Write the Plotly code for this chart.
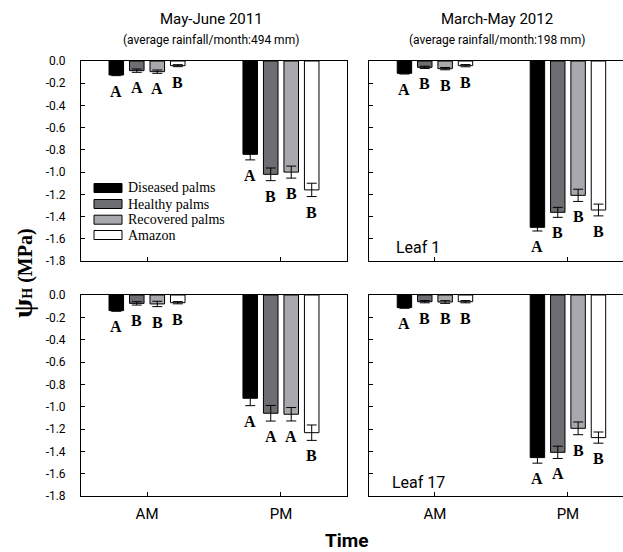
import plotly.graph_objects as go

W, H = 623, 552

times = ["AM", "PM"]
groups = ["Diseased palms", "Healthy palms", "Recovered palms", "Amazon"]
colors = ["#000000", "#6d6e71", "#a7a9ac", "#ffffff"]

ytick_vals = [0.0, -0.2, -0.4, -0.6, -0.8, -1.0, -1.2, -1.4, -1.6, -1.8]
ytick_text = ["0.0", "-0.2", "-0.4", "-0.6", "-0.8", "-1.0", "-1.2", "-1.4", "-1.6", "-1.8"]

col_titles = ["May-June 2011", "March-May 2012"]
col_subtitles = ["(average rainfall/month:494 mm)", "(average rainfall/month:198 mm)"]
row_labels = ["Leaf 1", "Leaf 17"]

# rows: Diseased, Healthy, Recovered, Amazon ; columns: AM, PM
psi_2011_leaf1 = [[-0.126, -0.84], [-0.087, -1.02], [-0.096, -1.00], [-0.042, -1.16]]
err_2011_leaf1 = [[0.006, 0.05], [0.015, 0.057], [0.015, 0.054], [0.009, 0.06]]
let_2011_leaf1 = [["A", "A"], ["A", "B"], ["A", "B"], ["B", "B"]]

psi_2012_leaf1 = [[-0.111, -1.497], [-0.057, -1.362], [-0.069, -1.209], [-0.042, -1.341]]
err_2012_leaf1 = [[0.006, 0.033], [0.01, 0.045], [0.01, 0.055], [0.01, 0.053]]
let_2012_leaf1 = [["A", "A"], ["B", "B"], ["B", "B"], ["B", "B"]]

psi_2011_leaf17 = [[-0.140, -0.925], [-0.075, -1.059], [-0.080, -1.068], [-0.069, -1.233]]
err_2011_leaf17 = [[0.006, 0.066], [0.015, 0.07], [0.024, 0.06], [0.01, 0.069]]
let_2011_leaf17 = [["A", "A"], ["B", "A"], ["B", "A"], ["B", "B"]]

psi_2012_leaf17 = [[-0.113, -1.456], [-0.060, -1.409], [-0.063, -1.194], [-0.060, -1.277]]
err_2012_leaf17 = [[0.006, 0.05], [0.01, 0.055], [0.012, 0.057], [0.01, 0.05]]
let_2012_leaf17 = [["A", "A"], ["B", "A"], ["B", "B"], ["B", "B"]]

SANS = "Liberation Sans Narrow, Roboto, Liberation Sans, Arial, sans-serif"
SERIF = "Liberation Serif, Times New Roman, serif"


def px_x(p):
    return p / W


def px_y(p):
    return 1 - p / H


# panel geometry (pixels)
left_x = (81, 347)
right_x = (369, 623)
top_y = (61, 261)
bot_y = (295, 496)
left_range = [-0.493, 1.493]
right_range = [-0.496, 1.414]
BARGAP = 0.388
GROUPGAP = 0.29

panels = [
    (psi_2011_leaf1, err_2011_leaf1, let_2011_leaf1, "", left_x, left_range, top_y, 0, 0),
    (psi_2012_leaf1, err_2012_leaf1, let_2012_leaf1, "2", right_x, right_range, top_y, 1, 0),
    (psi_2011_leaf17, err_2011_leaf17, let_2011_leaf17, "3", left_x, left_range, bot_y, 0, 1),
    (psi_2012_leaf17, err_2012_leaf17, let_2012_leaf17, "4", right_x, right_range, bot_y, 1, 1),
]

fig = go.Figure()
annotations = []
shapes = []

for vals, errs, lets, sfx, xpix, xr, ypix, col, row in panels:
    for gi, g in enumerate(groups):
        fig.add_trace(go.Bar(
            x=times, y=vals[gi], name=g,
            marker=dict(color=colors[gi], line=dict(color="black", width=1)),
            error_y=dict(type="data", array=errs[gi], color="black", thickness=1, width=5),
            xaxis="x" + sfx, yaxis="y" + sfx, showlegend=False, hoverinfo="skip",
        ))
    ppu = (xpix[1] - xpix[0]) / (xr[1] - xr[0])
    slot = ppu * (1 - BARGAP) / len(groups)
    for gi in range(len(groups)):
        for ti, t in enumerate(times):
            annotations.append(dict(
                x=t, y=vals[gi][ti] - errs[gi][ti], xref="x" + sfx, yref="y" + sfx,
                text="<b>%s</b>" % lets[gi][ti], showarrow=False,
                xanchor="center", yanchor="top",
                xshift=(gi - 1.5) * slot, yshift=-5,
                font=dict(family=SERIF, size=16, color="black"),
            ))
    ax = dict(
        domain=[px_x(xpix[0]), px_x(xpix[1])], range=xr, type="category",
        anchor="y" + sfx, showline=True, linecolor="black", linewidth=1, mirror=True,
        ticks="inside", ticklen=4, tickcolor="black", showgrid=False, zeroline=False,
        showticklabels=(row == 1), tickfont=dict(family=SANS, size=15, color="black"),
        ticklabelstandoff=4, automargin=False, fixedrange=True,
    )
    ay = dict(
        domain=[px_y(ypix[1]), px_y(ypix[0])], range=[-1.8, 0], anchor="x" + sfx,
        showline=True, linecolor="black", linewidth=1, mirror=(col == 0),
        ticks="inside", ticklen=4, tickcolor="black", showgrid=False, zeroline=False,
        tickvals=ytick_vals, ticktext=ytick_text, showticklabels=(col == 0),
        tickfont=dict(family=SANS, size=12, color="black"), ticklabelstandoff=12,
        automargin=False, fixedrange=True,
    )
    fig.update_layout(**{"xaxis" + sfx: ax, "yaxis" + sfx: ay})
    if col == 1:
        annotations.append(dict(
            x=px_x(xpix[0] + 49), y=px_y(ypix[1] - 14), xref="paper", yref="paper",
            text=row_labels[row], showarrow=False, xanchor="center", yanchor="middle",
            font=dict(family=SANS, size=16, color="black"),
        ))

for ci, cx in enumerate([211, 497]):
    annotations.append(dict(x=px_x(cx), y=px_y(19), xref="paper", yref="paper",
                            text=col_titles[ci], showarrow=False, xanchor="center", yanchor="middle",
                            font=dict(family=SANS, size=15, color="black")))
    annotations.append(dict(x=px_x(cx), y=px_y(40), xref="paper", yref="paper",
                            text=col_subtitles[ci], showarrow=False, xanchor="center", yanchor="middle",
                            font=dict(family=SANS, size=12, color="black")))

leg_rows = [188, 204, 219.7, 235]
for gi, g in enumerate(groups):
    yc = leg_rows[gi]
    shapes.append(dict(type="rect", xref="paper", yref="paper",
                       x0=px_x(94), x1=px_x(122), y0=px_y(yc + 4.5), y1=px_y(yc - 4.5),
                       fillcolor=colors[gi], line=dict(color="black", width=1)))
    annotations.append(dict(x=px_x(126), y=px_y(yc), xref="paper", yref="paper",
                            text=g, showarrow=False, xanchor="left", yanchor="middle",
                            font=dict(family=SERIF, size=14, color="black")))

annotations.append(dict(x=px_x(22), y=px_y(273), xref="paper", yref="paper",
                        text="<b><span style='font-size:28px'>ψ</span><span style='font-size:14px'>H</span> (MPa)</b>",
                        showarrow=False, textangle=-90, xanchor="center", yanchor="middle",
                        font=dict(family=SERIF, size=20, color="black")))
annotations.append(dict(x=px_x(347), y=px_y(540), xref="paper", yref="paper",
                        text="<b>Time</b>", showarrow=False, xanchor="center", yanchor="middle",
                        font=dict(family=SANS, size=19, color="black")))

fig.update_layout(
    width=W, height=H, margin=dict(l=0, r=0, t=0, b=0),
    paper_bgcolor="white", plot_bgcolor="white",
    barmode="group", bargap=BARGAP, bargroupgap=GROUPGAP,
    annotations=annotations, shapes=shapes, showlegend=False,
)

fig.write_html("out.html", config={"displayModeBar": False},
               post_script="document.body.style.margin='0';document.body.style.overflow='hidden';")
